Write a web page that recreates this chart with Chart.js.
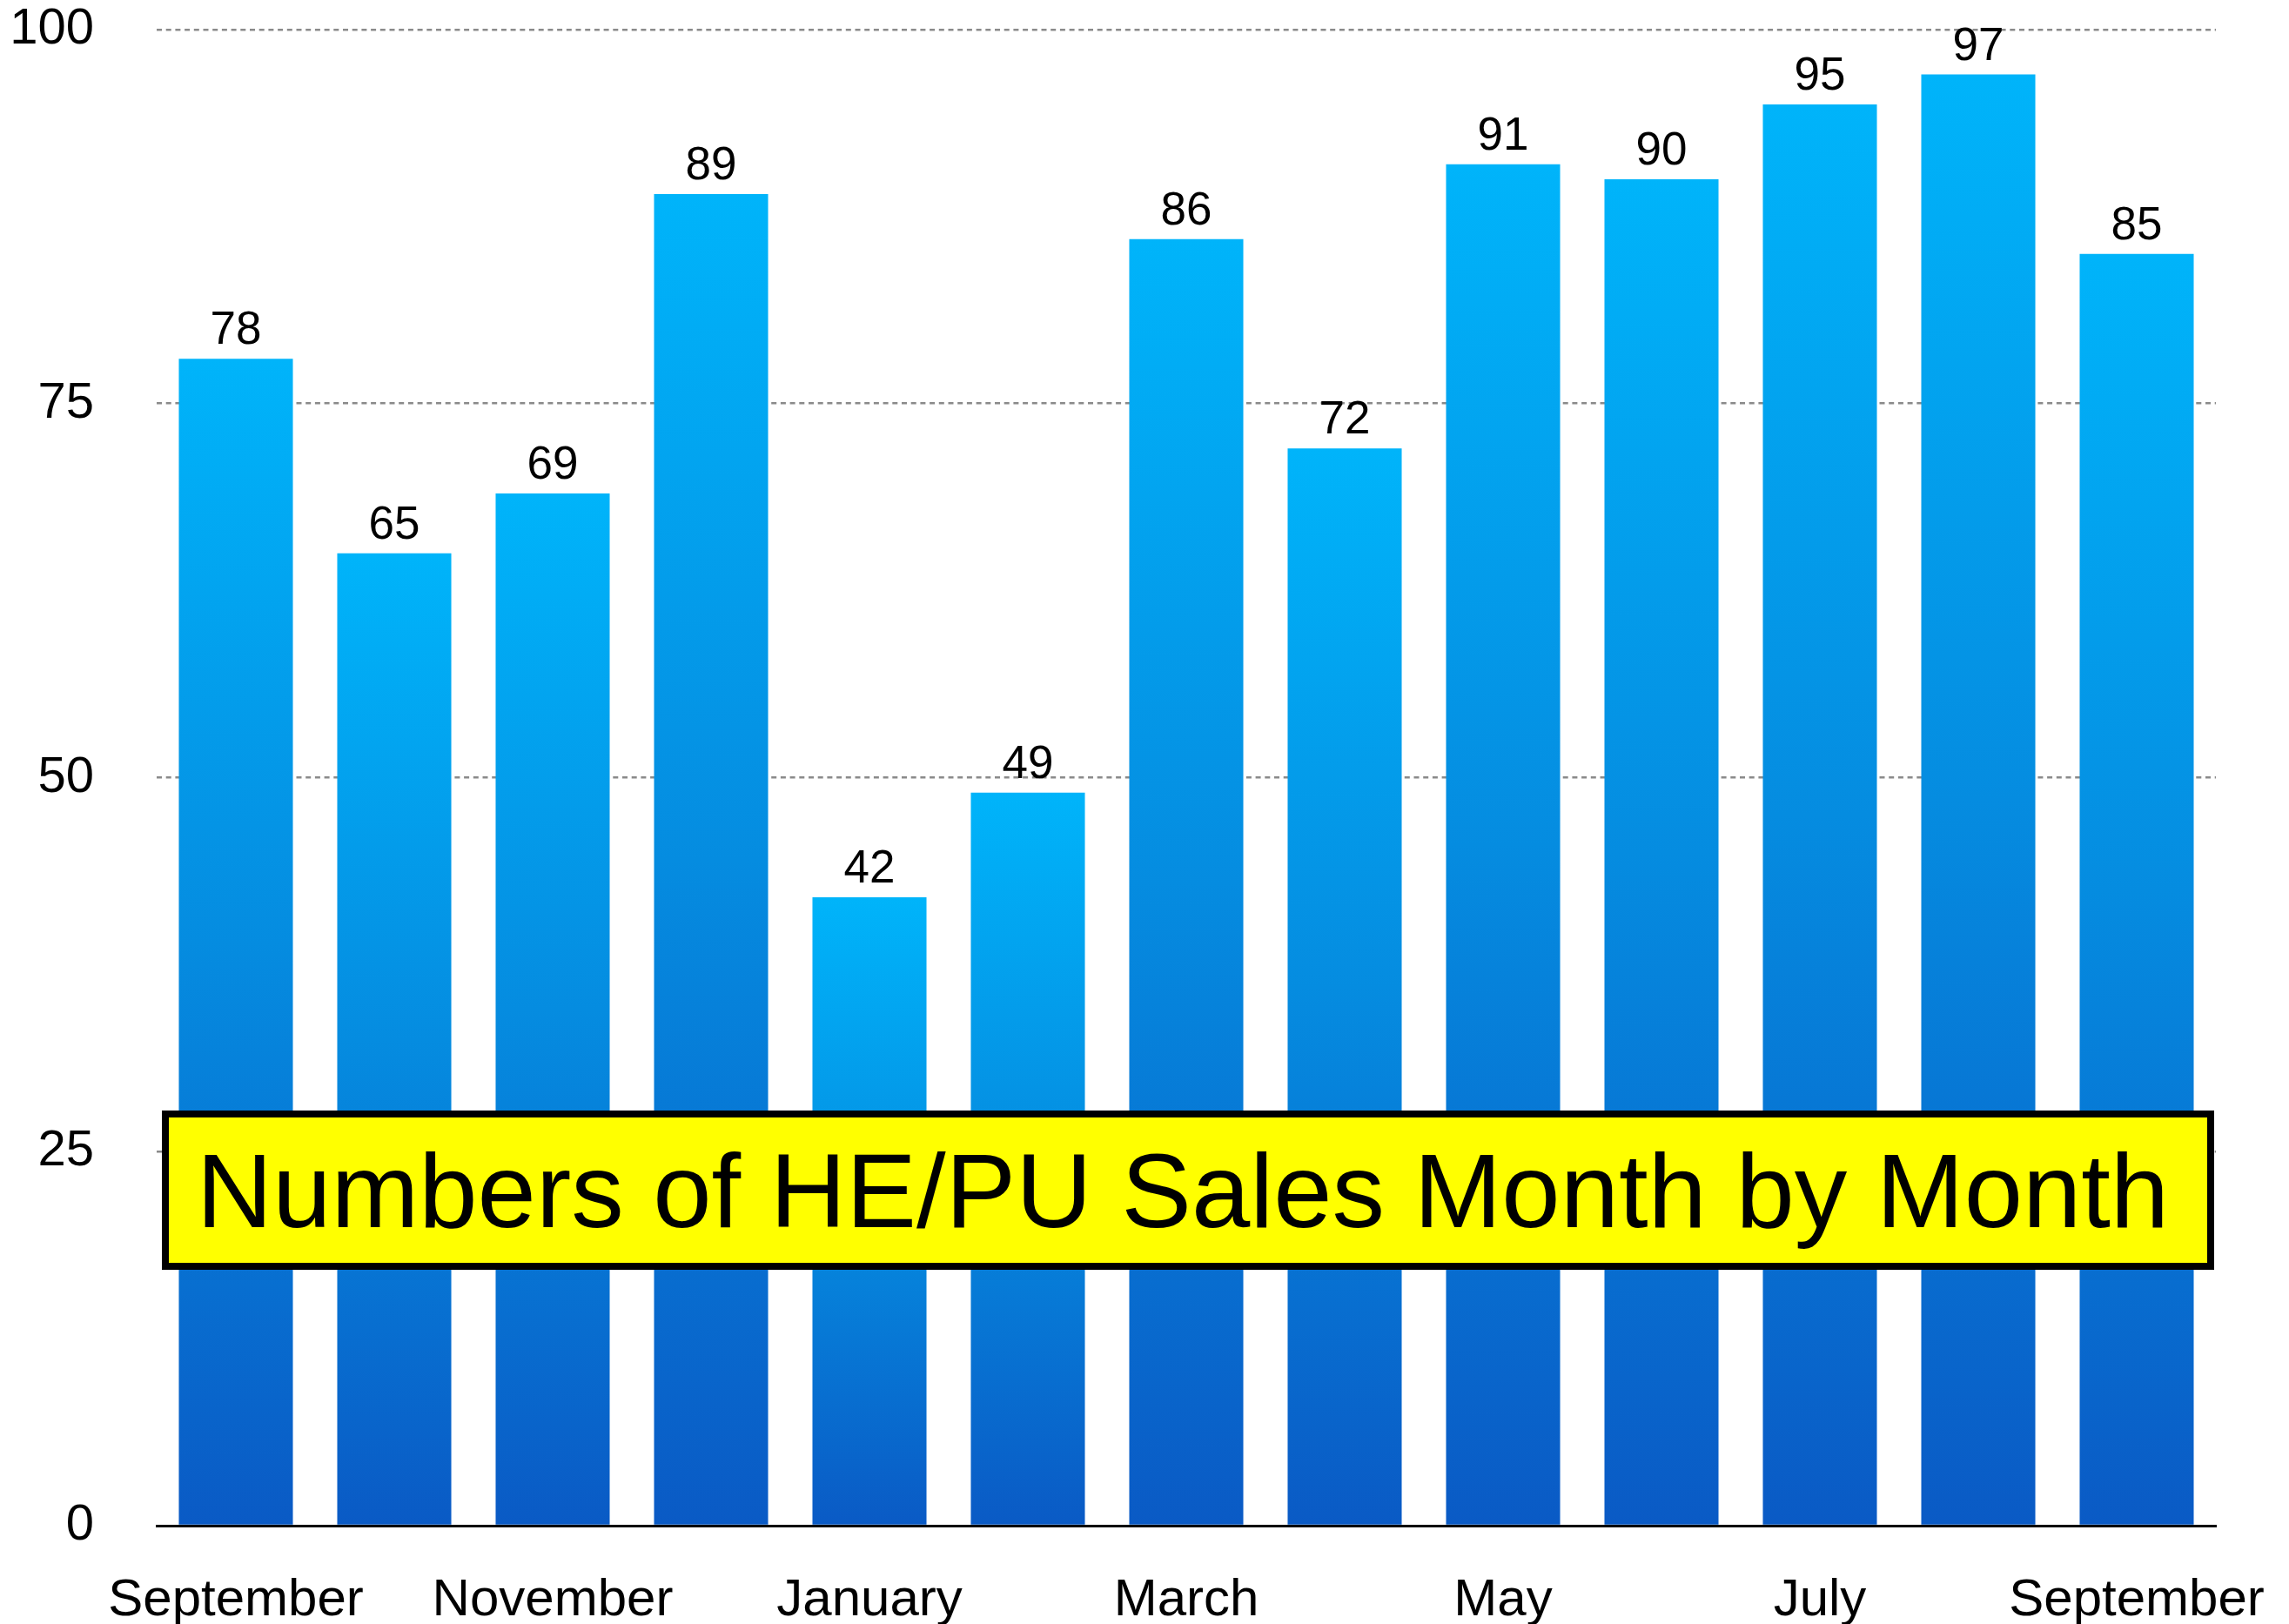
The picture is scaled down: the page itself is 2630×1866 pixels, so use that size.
<!DOCTYPE html>
<html>
<head>
<meta charset="utf-8">
<script src="https://cdn.jsdelivr.net/npm/chart.js@4"></script>
<style>
html,body{margin:0;padding:0;background:#fff;}
#wrap{width:2630px;height:1866px;position:relative;}
</style>
</head>
<body>
<div id="wrap"><canvas id="c" width="2630" height="1866"></canvas></div>
<script>
const months = ["September","October","November","December","January","February","March","April","May","June","July","August","September"];
const sales = [78,65,69,89,42,49,86,72,91,90,95,97,85];
const yTicks = [0,25,50,75,100];
const titleText = "Numbers of HE/PU Sales Month by Month";

const FONT = '"Liberation Sans", Arial, Helvetica, sans-serif';

const valueLabels = {
  id: 'valueLabels',
  afterDatasetsDraw(chart) {
    const ctx = chart.ctx;
    const meta = chart.getDatasetMeta(0);
    ctx.save();
    ctx.font = '53px ' + FONT;
    ctx.fillStyle = '#000';
    ctx.textAlign = 'center';
    ctx.textBaseline = 'alphabetic';
    meta.data.forEach((bar, i) => {
      ctx.fillText(String(sales[i]), bar.x, bar.y - 17);
    });
    ctx.restore();
  }
};

const titleBox = {
  id: 'titleBox',
  afterDraw(chart) {
    const ctx = chart.ctx;
    const a = chart.chartArea;
    const left = a.left + 6, right = a.right - 2;
    const top = 1276, bottom = 1459;
    const bw = 8;
    ctx.save();
    ctx.fillStyle = '#000';
    ctx.fillRect(left, top, right - left, bottom - top);
    ctx.fillStyle = '#ffff00';
    ctx.fillRect(left + bw, top + bw, right - left - 2*bw, bottom - top - 2*bw);
    ctx.fillStyle = '#000';
    ctx.font = '121px ' + FONT;
    ctx.textAlign = 'center';
    ctx.textBaseline = 'alphabetic';
    ctx.fillText(titleText, (left + right) / 2 - 6, 1410);
    ctx.restore();
  }
};

function barGradient(c) {
  const chart = c.chart;
  if (!chart.chartArea || c.raw === undefined) return '#04a0ea';
  const y = chart.scales.y;
  const yTop = y.getPixelForValue(c.raw);
  const yBot = y.getPixelForValue(0);
  const g = chart.ctx.createLinearGradient(0, yTop, 0, yBot);
  g.addColorStop(0, '#00b4fa');
  g.addColorStop(0.5, '#058ce0');
  g.addColorStop(1, '#0a5ac5');
  return g;
}

new Chart(document.getElementById('c'), {
  type: 'bar',
  data: {
    labels: months,
    datasets: [{
      data: sales,
      backgroundColor: barGradient,
      borderWidth: 0,
      barPercentage: 0.72,
      categoryPercentage: 1.0
    }]
  },
  options: {
    responsive: false,
    animation: false,
    devicePixelRatio: 1,
    layout: { padding: { top: 34, right: 84, left: 0, bottom: 0 } },
    plugins: { legend: { display: false }, tooltip: { enabled: false }, title: { display: false } },
    scales: {
      x: {
        grid: { display: false, drawTicks: false },
        border: { display: true, color: '#000', width: 3 },
        ticks: {
          autoSkip: false,
          maxRotation: 0,
          minRotation: 0,
          padding: 50,
          color: '#000',
          font: { family: FONT, size: 60 },
          callback: function(v, i) { return i % 2 === 0 ? months[i] : ''; }
        },
        afterFit(s) { s.height = 113; s.paddingLeft = 0; s.paddingRight = 0; }
      },
      y: {
        min: 0, max: 100,
        afterBuildTicks(s) { s.ticks = yTicks.map(v => ({ value: v })); },
        grid: {
          drawTicks: false,
          lineWidth: 2.6,
          color: (c) => c.tick && c.tick.value === 0 ? 'rgba(0,0,0,0)' : '#8a8a8a'
        },
        border: { display: false, dash: [6, 4.7] },
        ticks: {
          padding: 72,
          color: '#000',
          font: { family: FONT, size: 58 }
        },
        afterFit(s) { s.width = 180; s.paddingTop = 0; s.paddingBottom = 0; }
      }
    }
  },
  plugins: [valueLabels, titleBox]
});
</script>
</body>
</html>
